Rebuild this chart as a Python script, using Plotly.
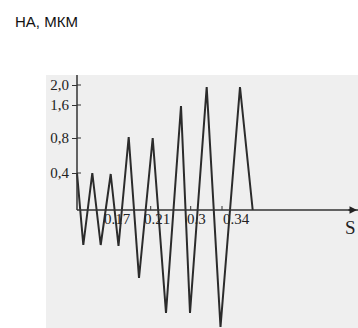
import plotly.graph_objects as go

# Values (drawn units: x = distance along S axis, y = drawn height above axis)
s_pos = [0, 6.3, 15.3, 23.7, 33.7, 41.5, 51.7, 62, 75.7, 89, 104, 113, 129.7, 143.5, 163, 175.7]
ha_drawn = [37, -35, 37, -35, 36, -36, 73, -68, 72, -103, 104, -103, 123, -117, 123, 0]

y_tick_pos = [37, 72, 105, 125]
y_tick_text = ["0,4", "0,8", "1,6", "2,0"]

x_label_pos = [40, 80, 119, 159]
x_label_text = ["0.17", "0.21", "0.3", "0.34"]
x_tick_pos = [73.7, 113.7, 145]

W, H = 358, 328
ML, MT = 46, 75
x_range = [-31, 281]
y_range = [-118, 135]

fig = go.Figure()
fig.add_trace(go.Scatter(x=s_pos, y=ha_drawn, mode="lines",
                         line=dict(color="#2b2b2b", width=2), hoverinfo="skip",
                         showlegend=False))

shapes = [
    dict(type="line", x0=0, x1=0, y0=0, y1=y_range[1], xref="x", yref="y",
         line=dict(color="#333333", width=1.5)),
    dict(type="line", x0=0, x1=x_range[1], y0=0, y1=0, xref="x", yref="y",
         line=dict(color="#333333", width=1.5)),
]
for xt in x_tick_pos:
    shapes.append(dict(type="line", x0=xt, x1=xt, y0=0, y1=4, xref="x", yref="y",
                       line=dict(color="#333333", width=1)))
for yt in y_tick_pos:
    shapes.append(dict(type="line", x0=0, x1=4, y0=yt, y1=yt, xref="x", yref="y",
                       line=dict(color="#333333", width=1)))

annotations = []
for xp, t in zip(x_label_pos, x_label_text):
    annotations.append(dict(x=xp, y=0, xref="x", yref="y", text=t, showarrow=False,
                            xanchor="center", yanchor="top", yshift=1,
                            font=dict(family="Liberation Serif", size=15, color="#222")))
annotations.append(dict(x=x_range[1] - 1, y=0, xref="x", yref="y", text="", showarrow=True,
                        ax=-10, ay=0, axref="pixel", ayref="pixel",
                        arrowhead=2, arrowsize=1, arrowwidth=1.5, arrowcolor="#222"))
annotations.append(dict(x=x_range[1], y=-5, xref="x", yref="y", text="S", showarrow=False,
                        xanchor="right", yanchor="top",
                        font=dict(family="Liberation Serif", size=19, color="#222")))
annotations.append(dict(x=(13 - ML) / (W - ML), y=1 + (MT - 22) / (H - MT),
                        xref="paper", yref="paper", text="НА, МКМ", showarrow=False,
                        xanchor="left", yanchor="middle",
                        font=dict(family="Liberation Sans", size=15, color="#111")))

fig.update_layout(
    width=W, height=H,
    margin=dict(l=ML, r=0, t=MT, b=0, pad=0),
    paper_bgcolor="white",
    plot_bgcolor="#efefef",
    xaxis=dict(range=x_range, showgrid=False, zeroline=False, showticklabels=False,
               ticks="", showline=False, fixedrange=True, automargin=False),
    yaxis=dict(range=y_range, showgrid=False, zeroline=False, showline=False,
               anchor="free", position=(0 - x_range[0]) / (x_range[1] - x_range[0]),
               automargin=False, fixedrange=True,
               tickvals=y_tick_pos, ticktext=y_tick_text, ticks="outside", ticklen=5,
               tickcolor="#333", tickwidth=1,
               tickfont=dict(family="Liberation Serif", size=15, color="#222")),
    shapes=shapes,
    annotations=annotations,
)

fig.write_html("out.html", config={"displayModeBar": False},
               post_script="document.body.style.margin='0';")
